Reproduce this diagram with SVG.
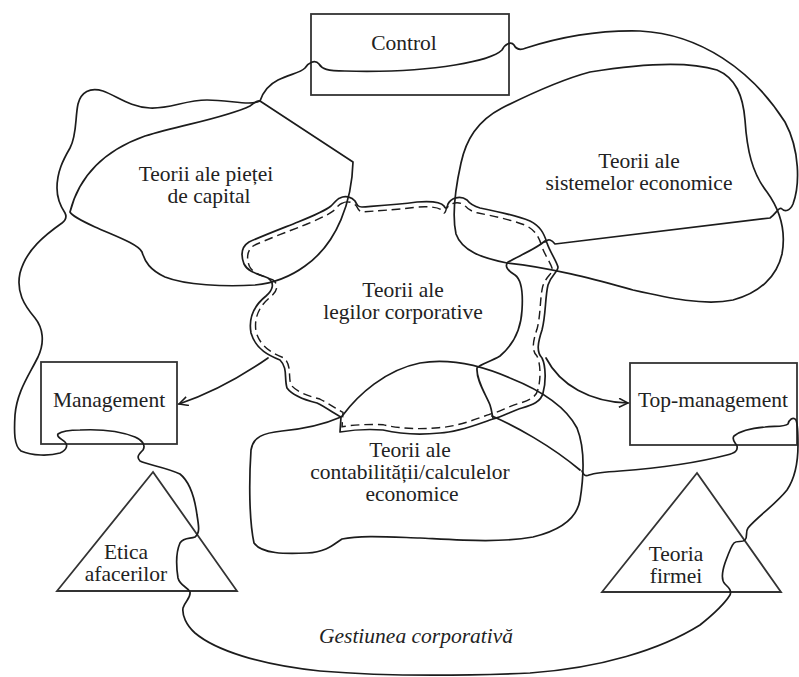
<svg xmlns="http://www.w3.org/2000/svg" width="799" height="677" viewBox="0 0 799 677">
  <style>
    .ln { fill: none; stroke: #1c1c1c; stroke-width: 1.7; stroke-linejoin: round; stroke-linecap: round; }
    .box { fill: none; stroke: #333; stroke-width: 1.8; }
    .dash { fill: none; stroke: #1c1c1c; stroke-width: 1.5; stroke-dasharray: 9 5; }
    .t { font-family: "Liberation Serif", "Times New Roman", serif; font-size: 21.5px; fill: #222; text-anchor: middle; }
    .it { font-style: italic; }
  </style>
  <defs>
    <marker id="arrow" markerWidth="12" markerHeight="12" refX="10" refY="5" orient="auto" markerUnits="userSpaceOnUse">
      <path d="M1,0.5 L10,5 L1,9.5" fill="none" stroke="#1c1c1c" stroke-width="1.5"/>
    </marker>
    <path id="legilor-outline" d="M 340,198 C 345,195 352,197 355,201 C 357,205 358,207 362,207 C 375,206 395,205 417,202 C 430,201 441,202 444,206 C 446,210 447,208 448,204 C 451,198 460,195 467,200 C 470,204 473,206 480,208 C 495,211 515,215 530,221 C 540,226 544,233 547,243 C 550,252 556,260 558,267 C 558,272 551,275 548,285 C 545,297 546,315 542,330 C 538,342 536,352 542,358 C 546,366 546,383 543,393 C 541,402 532,405 522,408 C 512,411 502,417 493,419 C 478,424 460,432 440,433 C 420,435 400,434 383,430 C 370,429 352,430 340,432 L 341,417 C 335,414 327,408 317,403 C 305,400 292,395 287,388 C 284,378 288,368 280,360 C 270,356 256,350 251,333 C 248,316 256,304 266,296 C 273,290 275,283 268,278 C 258,274 248,272 244,264 C 241,256 241,247 249,242 C 262,236 283,228 298,222 C 313,216 326,210 331,206 C 335,202 337,199 340,198 Z"/>
  </defs>

  <rect width="799" height="677" fill="#fff"/>

  <!-- regions -->
  <g id="piete">
    <path class="ln" d="M 70,212 C 78,180 100,152 145,136 C 185,124 225,118 250,106 C 254,103 257,100 260,101 L 353,162 C 352,200 338,243 305,266 C 290,277 275,283 255,285 C 225,287 185,285 165,277 C 150,270 145,262 142,252 C 138,244 115,236 95,227 C 82,221 72,216 70,212 Z"/>
    <text class="t"><tspan x="206" y="181">Teorii ale pieței</tspan><tspan x="209" y="203">de capital</tspan></text>
  </g>

  <g id="sisteme">
    <path class="ln" d="M 590,72 C 633,65 685,60 717,70 C 736,78 743,96 745,120 C 747,150 752,173 767,192 C 780,210 786,232 782,254 C 777,276 760,293 733,300 C 705,306 668,298 633,290 C 600,281 555,268 507,263 C 482,258 462,251 456,234 C 452,216 455,190 461,163 C 466,140 477,121 502,108 C 530,94 560,80 590,72 Z"/>
    <text class="t"><tspan x="639" y="168">Teorii ale</tspan><tspan x="639" y="190">sistemelor economice</tspan></text>
  </g>

  <g id="legilor">
    <use href="#legilor-outline" class="ln"/>
    <use href="#legilor-outline" class="dash" transform="translate(398,315) scale(0.965,0.955) translate(-398,-315)"/>
    <text class="t"><tspan x="403" y="297">Teorii ale</tspan><tspan x="403" y="319">legilor corporative</tspan></text>
  </g>

  <g id="contabilitate">
    <path class="ln" d="M 343,415 C 358,395 385,370 420,363 C 450,358 480,365 510,378 C 540,390 565,405 577,428 C 585,448 584,475 580,500 C 577,518 562,530 533,537 C 500,543 460,540 420,538 C 390,537 360,535 342,539 C 334,544 327,552 307,553 C 285,554 262,554 254,543 C 249,520 249,480 251,450 C 253,437 263,433 282,431 C 303,429 325,424 341,417 Z"/>
    <text class="t"><tspan x="410" y="457">Teorii ale</tspan><tspan x="410" y="479">contabilității/calculelor</tspan><tspan x="412" y="501">economice</tspan></text>
  </g>

  <!-- boxes -->
  <g id="control">
    <rect class="box" x="311" y="14" width="198" height="81"/>
    <text class="t" x="404" y="50">Control</text>
  </g>
  <g id="management">
    <rect class="box" x="41" y="362" width="136" height="82"/>
    <text class="t" x="109" y="407">Management</text>
  </g>
  <g id="top-management">
    <rect class="box" x="630" y="363" width="167" height="82"/>
    <text class="t" x="713" y="407">Top-management</text>
  </g>

  <!-- triangles -->
  <g id="etica">
    <polygon class="box" points="153,472 57,591 237,591"/>
    <text class="t"><tspan x="126" y="559">Etica</tspan><tspan x="126" y="581">afacerilor</tspan></text>
  </g>
  <g id="teoria-firmei">
    <polygon class="box" points="697,473 602,592 781,592"/>
    <text class="t"><tspan x="676" y="561">Teoria</tspan><tspan x="676" y="583">firmei</tspan></text>
  </g>

  <!-- connecting lines -->
  <g id="connectors">
    <!-- outer loop: left side, through Management, Etica, bottom, Teoria firmei, Top-management -->
    <path class="ln" d="M 260,101 C 250,106 230,100 207,100 C 185,100 170,109 150,108 C 130,107 117,96 103,91 C 90,87 81,92 78,104 C 75,118 77,135 70,148 C 63,160 57,172 57,188 C 57,200 61,207 65,213 C 67,217 66,220 62,223 C 45,235 26,250 20,273 C 16,292 24,305 35,318 C 43,328 45,342 38,357 C 28,377 17,392 15,415 C 14,432 14,446 21,451 C 32,456 50,456 60,453 C 67,450 68,445 65,442 C 62,439 56,437 58,434 C 62,431 70,430 80,430 C 100,429 120,431 135,437 C 142,440 146,445 143,450 C 139,454 136,457 140,461 C 148,465 165,467 180,474 C 190,482 195,500 197,515 C 199,527 200,533 195,537 C 190,539 184,537 180,543 C 176,552 176,565 178,578 C 180,586 188,587 190,592 C 191,598 185,601 183,608 C 182,615 186,625 195,633 C 215,650 260,665 320,671 C 380,676 460,676 530,673 C 600,668 660,650 700,625 C 715,613 725,603 730,595 C 732,590 728,587 725,584 C 721,580 722,572 725,563 C 728,555 731,546 734,543 C 737,540 742,543 745,540 C 748,537 745,532 748,528 C 757,517 775,505 787,490 C 795,478 798,462 798,445 C 798,432 798,425 796,420 C 793,416 789,420 788,424 C 785,427 775,426 765,427 C 752,428 740,431 734,436 C 731,440 736,443 737,446 C 738,451 735,453 727,455 C 700,462 660,468 620,471 C 605,472 595,473 589,475 C 585,477 583,474 582,471"/>
    <!-- through Control and round to the right -->
    <path class="ln" d="M 260,101 C 263,92 268,85 278,80 C 290,74 300,73 305,68 C 308,63 315,59 319,64 C 322,69 327,71 345,71 C 385,72 425,70 455,65 C 478,61 495,57 502,50 C 505,44 511,41 514,45 C 516,49 519,51 526,48 C 560,37 600,30 640,31 C 700,34 752,70 785,122 C 800,150 800,185 793,204 C 790,211 785,212 782,209 C 779,206 776,214 770,218 L 555,244 C 552,240 548,238 545,242"/>
    <!-- neck between regions -->
    <path class="ln" d="M 545,241 C 537,248 523,254 508,262 C 504,266 508,271 515,275 C 522,280 523,295 522,310 C 521,330 513,345 500,356 C 490,362 480,364 477,368 C 476,380 486,395 490,405 C 492,411 492,415 493,418"/>
    <path class="ln" d="M 492,416 C 515,426 550,445 580,470"/>
    <!-- arrows -->
    <path class="ln" marker-end="url(#arrow)" d="M 268,358 C 245,374 212,393 179,404"/>
    <path class="ln" marker-end="url(#arrow)" d="M 546,358 C 560,385 590,402 628,403"/>
  </g>

  <text class="t it" x="416" y="643">Gestiunea corporativă</text>
</svg>
